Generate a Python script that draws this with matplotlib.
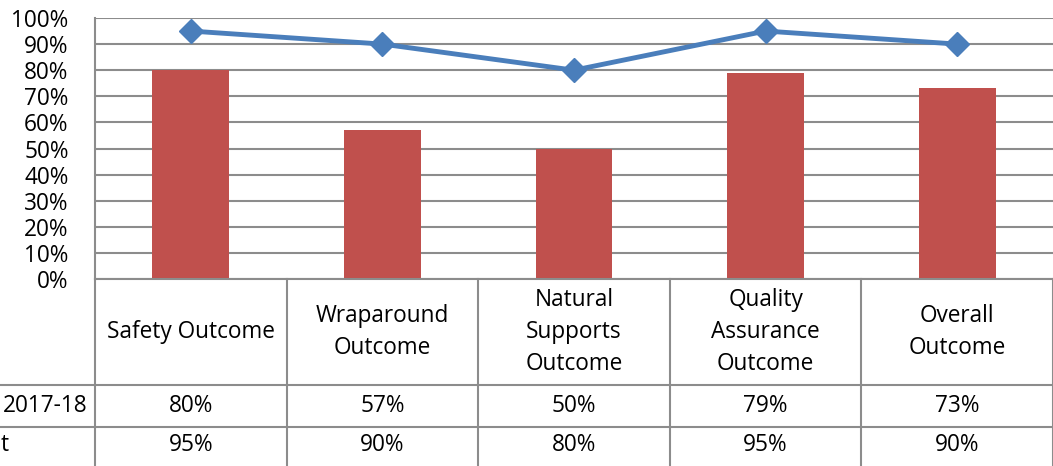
import matplotlib
matplotlib.use("Agg")
import matplotlib.pyplot as plt
from matplotlib.lines import Line2D
import numpy as np

categories = ["Safety Outcome", "Wraparound\nOutcome", "Natural\nSupports\nOutcome",
              "Quality\nAssurance\nOutcome", "Overall\nOutcome"]
actual_2017_18 = [80, 57, 50, 79, 73]
target = [95, 90, 80, 95, 90]
row_labels = ["2017-18", "t"]
yticks = list(range(0, 101, 10))

W, H = 1053, 466
fig = plt.figure(figsize=(W / 100, H / 100), dpi=100)
plt.rcParams['font.family'] = ['Open Sans', 'DejaVu Sans']
FS = 16.3
GRID = "#8c8c8c"

left, right, top, bottom = 95, 1053, 18, 279
ax = fig.add_axes([left / W, 1 - bottom / H, (right - left) / W, (bottom - top) / H])
x = np.arange(len(categories))
ax.set_xlim(-0.5, len(categories) - 0.5)
ax.set_ylim(0, 100)
ax.bar(x, actual_2017_18, width=0.4, color="#C0504D", zorder=3)
ax.plot(x, target, color="#4A7EBB", lw=3.5, marker="D", markersize=12, zorder=4)
ax.set_yticks(yticks)
ax.set_yticklabels([f"{v}%" for v in yticks], fontsize=FS)
ax.tick_params(axis="y", length=0, pad=19)
ax.set_xticks([])
for v in yticks:
    ax.axhline(v, color=GRID, lw=1.5, zorder=1)
for s in ["top", "right", "bottom"]:
    ax.spines[s].set_visible(False)
ax.spines["left"].set_color(GRID)
ax.spines["left"].set_linewidth(1.5)

def fx(px):
    return px / W

def fy(py):
    return 1 - py / H

ncol = len(categories)
colw = (right - left) / ncol
# table lines
for i in range(ncol + 1):
    xx = left + i * colw
    fig.add_artist(Line2D([fx(xx), fx(xx)], [fy(bottom), fy(H + 2)], color=GRID, lw=1.5))
for yy in [385, 427]:
    fig.add_artist(Line2D([fx(0), fx(W)], [fy(yy), fy(yy)], color=GRID, lw=1.5))
fig.add_artist(Line2D([fx(left), fx(W)], [fy(bottom), fy(bottom)], color=GRID, lw=1.5))

for i, c in enumerate(categories):
    cx = left + (i + 0.5) * colw
    fig.text(fx(cx), fy(332), c, ha="center", va="center", fontsize=FS, linespacing=1.42)
    fig.text(fx(cx), fy(406), f"{actual_2017_18[i]}%", ha="center", va="center", fontsize=FS)
    fig.text(fx(cx), fy(445), f"{target[i]}%", ha="center", va="center", fontsize=FS)

fig.text(fx(87), fy(406), row_labels[0], ha="right", va="center", fontsize=FS)
fig.text(fx(1), fy(445), row_labels[1], ha="left", va="center", fontsize=FS)

fig.savefig("out.png", dpi=100)
